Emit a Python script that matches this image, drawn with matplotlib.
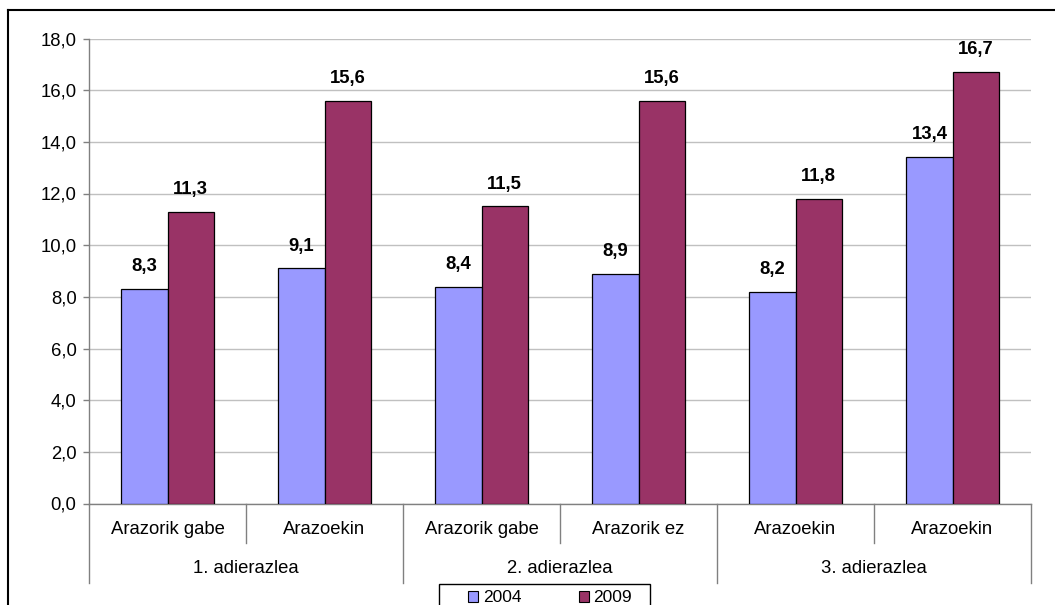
import matplotlib
matplotlib.use("Agg")
import matplotlib.pyplot as plt
import matplotlib.patches as mpatches
from matplotlib.lines import Line2D
import numpy as np

plt.rcParams['font.family'] = ['Liberation Sans', 'DejaVu Sans']

# ── data ───────────────────────────────────────────────────────────
categories = ["Arazorik gabe", "Arazoekin",
              "Arazorik gabe", "Arazorik ez",
              "Arazoekin", "Arazoekin"]
groups     = ["1. adierazlea", "2. adierazlea", "3. adierazlea"]
series     = ["2004", "2009"]
vals_2004  = [8.3, 9.1, 8.4, 8.9, 8.2, 13.4]
vals_2009  = [11.3, 15.6, 11.5, 15.6, 11.8, 16.7]
colors     = ["#9999FF", "#993366"]
yticks     = np.arange(0, 18.1, 2)

W, H = 1055, 605
fig = plt.figure(figsize=(W/100, H/100), dpi=100)
ax = fig.add_axes([89/W, 1 - 503.5/H, 942/W, 465/H])

n = len(categories)
x = np.arange(n) + 0.5
bw = 0.293
for k, (vals, col) in enumerate(zip([vals_2004, vals_2009], colors)):
    xs = x - bw + k*bw
    ax.bar(xs, vals, width=bw, align='edge', color=col,
           edgecolor='black', linewidth=0.9, zorder=3)
    for xi, v in zip(xs, vals):
        ax.annotate(f"{v:.1f}".replace(".", ","), (xi + bw/2, v),
                    textcoords="offset points", xytext=(0, 10),
                    ha='center', va='bottom', fontsize=13.3,
                    fontweight='bold')

ax.set_xlim(0, n)
ax.set_ylim(0, 18)
ax.set_yticks(yticks)
ax.set_yticklabels([f"{t:.1f}".replace(".", ",") for t in yticks],
                   fontsize=13.3)
ax.set_xticks([])
ax.tick_params(axis='y', length=4, width=1, color='#808080', pad=5)
ax.grid(axis='y', color='#c0c0c0', linewidth=1, zorder=0)
for s in ['top', 'right']:
    ax.spines[s].set_visible(False)
ax.spines['left'].set_color('#808080')
ax.spines['bottom'].set_color('#808080')
ax.spines['left'].set_linewidth(1)
ax.spines['bottom'].set_linewidth(1)

# ── multi-level category axis ──────────────────────────────────────
px = 1/465 * 18  # data units per pixel (vertical)
for i in range(n + 1):
    depth = 79 if i % 2 == 0 else 39
    ax.plot([i, i], [0, -depth*px], color='#808080', lw=1,
            clip_on=False, zorder=2)
for xi, lab in zip(x, categories):
    ax.text(xi, -26*px, lab, ha='center', va='center',
            fontsize=13.3, clip_on=False)
for g, lab in enumerate(groups):
    ax.text(2*g + 1, -65*px, lab, ha='center', va='center',
            fontsize=13.3, clip_on=False)

# ── legend (frame drawn separately, box runs off the bottom) ───────
handles = [mpatches.Patch(facecolor=c, edgecolor='black', linewidth=0.8,
                          label=s) for c, s in zip(colors, series)]
fig.legend(handles=handles, loc='upper center', ncol=2,
           bbox_to_anchor=(550/W, 1 - 587/H),
           fontsize=12.5, frameon=False,
           handlelength=0.6, handleheight=0.6, handletextpad=0.25,
           columnspacing=3.3, borderpad=0.2, borderaxespad=0)
fig.add_artist(mpatches.Rectangle((439/W, -10/H), 211/W, (H - 584 + 10)/H,
                                  transform=fig.transFigure, fill=False,
                                  edgecolor='black', linewidth=1))

# ── outer frame ────────────────────────────────────────────────────
fig.add_artist(Line2D([8/W, 1], [1 - 9.5/H, 1 - 9.5/H], color='black',
                      lw=1.5, transform=fig.transFigure))
fig.add_artist(Line2D([8/W, 8/W], [0, 1 - 9.5/H], color='black',
                      lw=1.5, transform=fig.transFigure))

fig.savefig("out.png", dpi=100)
